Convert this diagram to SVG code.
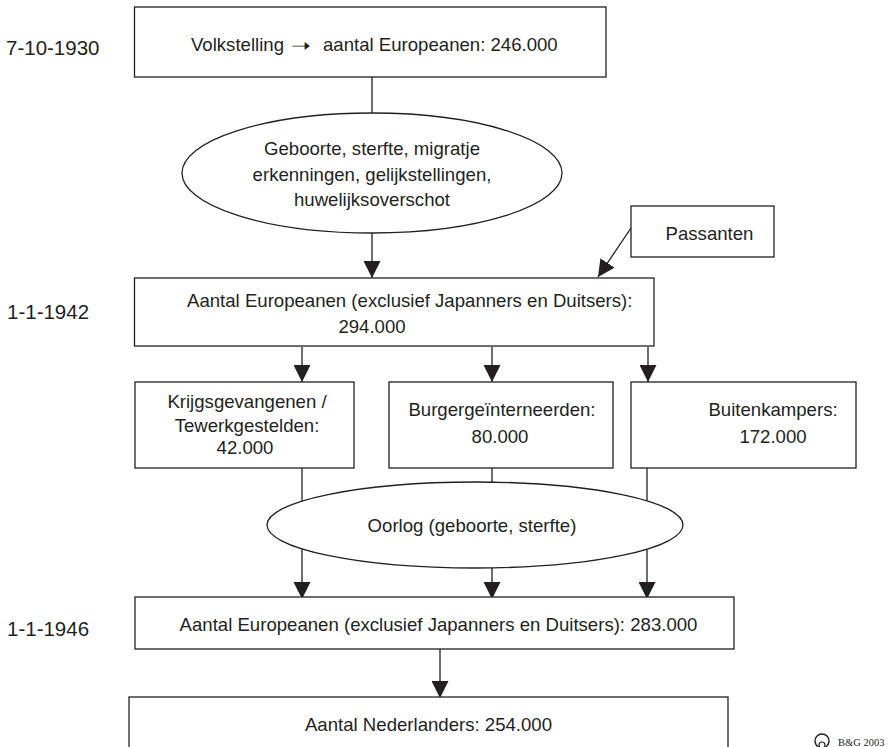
<svg xmlns="http://www.w3.org/2000/svg" width="891" height="747" viewBox="0 0 891 747">
<style>
.box{fill:#fff;stroke:#231f20;stroke-width:1.3}
.ell{fill:#fff;stroke:#231f20;stroke-width:1.3}
.ln{fill:none;stroke:#231f20;stroke-width:1.3}
.t{font-family:"Liberation Sans",Arial,sans-serif;font-size:18.6px;fill:#231f20}
.m{text-anchor:middle}
.e{text-anchor:end}
.lab{font-family:"Liberation Sans",Arial,sans-serif;font-size:20.5px;fill:#231f20}
.logo{font-family:"Liberation Serif","Times New Roman",serif;font-size:10.5px;fill:#231f20}
</style>
<defs>
<marker id="ah" viewBox="0 0 17 17" refX="17" refY="8.5" markerWidth="17" markerHeight="17" markerUnits="userSpaceOnUse" orient="auto">
<path d="M0,0 L17,8.5 L0,17 Z" fill="#231f20"/>
</marker>
</defs>
<rect width="891" height="747" fill="#fff"/>

<g id="labels">
<text class="lab" x="6" y="55">7-10-1930</text>
<text class="lab" x="7" y="319">1-1-1942</text>
<text class="lab" x="7" y="636">1-1-1946</text>
</g>

<g id="connectors">
<line class="ln" x1="372" y1="77" x2="372" y2="113"/>
<line class="ln" x1="372" y1="233" x2="372" y2="278" marker-end="url(#ah)"/>
<line class="ln" x1="631" y1="228" x2="598" y2="277" marker-end="url(#ah)"/>
<line class="ln" x1="302" y1="347" x2="302" y2="382" marker-end="url(#ah)"/>
<line class="ln" x1="492" y1="347" x2="492" y2="382" marker-end="url(#ah)"/>
<line class="ln" x1="648" y1="347" x2="648" y2="382" marker-end="url(#ah)"/>
<line class="ln" x1="302" y1="468" x2="302" y2="599" marker-end="url(#ah)"/>
<line class="ln" x1="492" y1="468" x2="492" y2="599" marker-end="url(#ah)"/>
<line class="ln" x1="647" y1="468" x2="647" y2="599" marker-end="url(#ah)"/>
<line class="ln" x1="440" y1="649" x2="440" y2="698" marker-end="url(#ah)"/>
</g>

<g id="n1930">
<rect class="box" x="134.5" y="7" width="471.5" height="70"/>
<text class="t e" x="284" y="51">Volkstelling</text>
<text class="t" x="291" y="52" font-family="'DejaVu Sans',sans-serif" font-size="22" textLength="20" lengthAdjust="spacingAndGlyphs">➝</text>
<text class="t" x="323" y="51">aantal Europeanen: 246.000</text>
</g>

<g id="ellipse1">
<ellipse class="ell" cx="372" cy="173" rx="190" ry="60"/>
<text class="t m" x="372" y="155">Geboorte, sterfte, migratje</text>
<text class="t m" x="372" y="181">erkenningen, gelijkstellingen,</text>
<text class="t m" x="372" y="206">huwelijksoverschot</text>
</g>

<g id="passanten">
<rect class="box" x="631" y="206" width="143" height="51"/>
<text class="t m" x="709.5" y="240">Passanten</text>
</g>

<g id="n1942">
<rect class="box" x="134.5" y="278" width="519.5" height="68"/>
<text class="t" x="187" y="307">Aantal Europeanen (exclusief Japanners en Duitsers):</text>
<text class="t m" x="372" y="333">294.000</text>
</g>

<g id="krijgs">
<rect class="box" x="135" y="382" width="219" height="86"/>
<text class="t m" x="247" y="408">Krijgsgevangenen /</text>
<text class="t m" x="247" y="432">Tewerkgestelden:</text>
<text class="t m" x="245" y="454">42.000</text>
</g>

<g id="burger">
<rect class="box" x="389" y="382" width="224" height="86"/>
<text class="t m" x="502" y="416">Burgergeïnterneerden:</text>
<text class="t m" x="500" y="443">80.000</text>
</g>

<g id="buiten">
<rect class="box" x="631" y="382" width="225" height="86"/>
<text class="t m" x="773" y="416">Buitenkampers:</text>
<text class="t m" x="773" y="443">172.000</text>
</g>

<g id="oorlog">
<ellipse class="ell" cx="475" cy="525" rx="208" ry="43"/>
<text class="t m" x="472" y="531.5">Oorlog (geboorte, sterfte)</text>
</g>

<g id="n1946">
<rect class="box" x="135" y="597" width="599" height="52"/>
<text class="t m" x="438.5" y="631">Aantal Europeanen (exclusief Japanners en Duitsers): 283.000</text>
</g>

<g id="nederlanders">
<rect class="box" x="129" y="697" width="599" height="70"/>
<text class="t m" x="428.5" y="731">Aantal Nederlanders: 254.000</text>
</g>

<g id="logo">
<circle cx="822" cy="741" r="7" fill="none" stroke="#231f20" stroke-width="1.4"/>
<circle cx="822" cy="745" r="3" fill="none" stroke="#231f20" stroke-width="1.2"/>
<text class="logo" x="838" y="746">B&amp;G 2003</text>
</g>
</svg>
